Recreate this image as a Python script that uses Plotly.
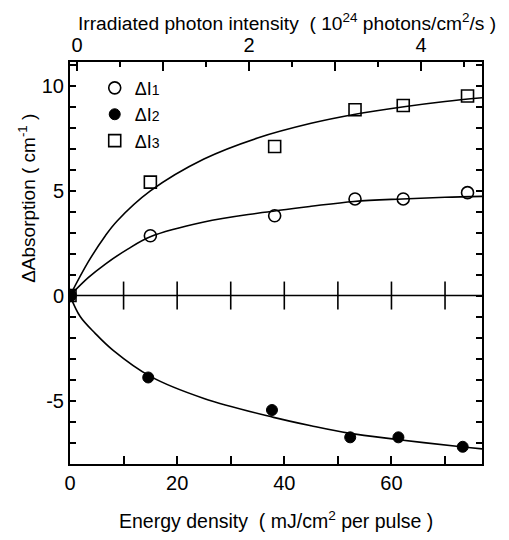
import plotly.graph_objects as go

# ---- data ----
x_13 = [0, 15.0, 38.2, 53.2, 62.2, 74.2]
dI1 = [0, 2.85, 3.8, 4.6, 4.6, 4.9]
dI3 = [0, 5.4, 7.1, 8.85, 9.05, 9.5]
x_2 = [0, 14.6, 37.7, 52.3, 61.3, 73.3]
dI2 = [0, -3.9, -5.45, -6.75, -6.75, -7.2]

# fitted curves
fit1_x = [0, 3.4, 6.6, 10.7, 15, 25, 35, 45, 53, 62, 70, 76.9]
fit1_y = [0, 0.85, 1.5, 2.2, 2.8, 3.5, 3.92, 4.25, 4.48, 4.6, 4.68, 4.72]
fit3_x = [0, 3.4, 6.6, 8.8, 15, 25, 35, 45, 53, 62, 70, 76.9]
fit3_y = [0, 1.6, 2.85, 3.55, 4.98, 6.5, 7.5, 8.2, 8.62, 8.98, 9.24, 9.42]
fit2_x = [0, 1.9, 4.7, 8, 15, 25, 38, 45, 52, 61, 73, 76.9]
fit2_y = [0, -1.0, -1.8, -2.6, -3.85, -4.9, -5.8, -6.2, -6.55, -6.85, -7.2, -7.3]

zero_ticks_x = [10, 20, 30, 40, 50, 60, 70]

bottom_ticks = [0, 10, 20, 30, 40, 50, 60, 70]
bottom_text = ["0", "", "20", "", "40", "", "60", ""]
top_ticks = [0, 1, 2, 3, 4]
top_text = ["0", "", "2", "", "4"]
left_ticks = list(range(-8, 12))
left_text = [str(v) if v in (-5, 0, 5, 10) else "" for v in left_ticks]

legend_names = ["ΔI<span style='font-size:14px'>1</span>",
                "ΔI<span style='font-size:14px'>2</span>",
                "ΔI<span style='font-size:14px'>3</span>"]

X_RANGE = [0, 76.9]
X2_RANGE = [-0.081, 4.71]
Y_RANGE = [-8.02, 11.12]

FONT = "Liberation Sans"
BLACK = "black"

fig = go.Figure()

# fit curves
for fx, fy in [(fit1_x, fit1_y), (fit3_x, fit3_y), (fit2_x, fit2_y)]:
    fig.add_trace(go.Scatter(x=fx, y=fy, mode="lines", line=dict(color=BLACK, width=1.6, shape="spline"),
                             showlegend=False, hoverinfo="skip"))

# zero line with crossing ticks
fig.add_trace(go.Scatter(x=[X_RANGE[0], X_RANGE[1]], y=[0, 0], mode="lines",
                         line=dict(color=BLACK, width=1.6), showlegend=False, hoverinfo="skip"))
fig.add_trace(go.Scatter(x=zero_ticks_x, y=[0] * len(zero_ticks_x), mode="markers",
                         marker=dict(symbol="line-ns", size=20, line=dict(width=1.6, color=BLACK)),
                         showlegend=False, hoverinfo="skip"))

# data
fig.add_trace(go.Scatter(x=x_13, y=dI1, mode="markers", name=legend_names[0],
                         marker=dict(symbol="circle-open", size=12, color=BLACK, line=dict(width=1.6, color=BLACK))))
fig.add_trace(go.Scatter(x=x_2, y=dI2, mode="markers", name=legend_names[1],
                         marker=dict(symbol="circle", size=11, color=BLACK, line=dict(width=1, color=BLACK))))
fig.add_trace(go.Scatter(x=x_13, y=dI3, mode="markers", name=legend_names[2],
                         marker=dict(symbol="square-open", size=12, color=BLACK, line=dict(width=1.6, color=BLACK))))

# invisible trace for top/right axes
fig.add_trace(go.Scatter(x=[X2_RANGE[0]], y=[0], xaxis="x2", yaxis="y2", mode="markers",
                         marker=dict(opacity=0), showlegend=False, hoverinfo="skip"))

axis_common = dict(showline=True, linecolor=BLACK, linewidth=2, mirror=False, showgrid=False,
                   zeroline=False, ticks="inside", tickcolor=BLACK, tickwidth=1.5,
                   tickfont=dict(family=FONT, size=20, color=BLACK))

fig.update_layout(
    width=501, height=532,
    margin=dict(l=62, r=27, t=54, b=76),
    paper_bgcolor="white", plot_bgcolor="white",
    font=dict(family=FONT, color=BLACK),
    xaxis=dict(range=X_RANGE, tickmode="array", tickvals=bottom_ticks, ticktext=bottom_text,
               ticklen=8, **axis_common),
    yaxis=dict(range=Y_RANGE, tickmode="array", tickvals=left_ticks, ticktext=left_text,
               ticklen=6, **axis_common),
    xaxis2=dict(range=X2_RANGE, overlaying="x", side="top", tickmode="array", tickvals=top_ticks,
                ticktext=top_text, ticklen=9,
                minor=dict(tickvals=[0.5, 1.5, 2.5, 3.5, 4.5], ticklen=5, ticks="inside",
                           tickcolor=BLACK, tickwidth=1.5),
                **axis_common),
    yaxis2=dict(range=Y_RANGE, overlaying="y", side="right", tickmode="array", tickvals=left_ticks,
                showticklabels=False, ticklen=6, **axis_common),
    legend=dict(x=0.06, y=0.981, xanchor="left", yanchor="top", bgcolor="rgba(0,0,0,0)",
                font=dict(family=FONT, size=18, color=BLACK), tracegroupgap=0),
    showlegend=True,
)

fig.add_annotation(text="ΔAbsorption ( cm<sup>-1</sup> )", xref="paper", yref="paper",
                   x=-0.104, y=0.66, xanchor="center", yanchor="middle", textangle=-90,
                   showarrow=False, font=dict(family=FONT, size=19, color=BLACK))
fig.add_annotation(text="Energy density  ( mJ/cm<sup>2</sup> per pulse )", xref="paper", yref="paper",
                   x=0.5, y=-0.14, xanchor="center", yanchor="middle",
                   showarrow=False, font=dict(family=FONT, size=19.5, color=BLACK))
fig.add_annotation(text="Irradiated photon intensity  ( 10<sup>24</sup> photons/cm<sup>2</sup>/s )",
                   xref="paper", yref="paper", x=0.527, y=1.1, xanchor="center", yanchor="middle",
                   showarrow=False, font=dict(family=FONT, size=19.2, color=BLACK))

fig.write_html("out.html")
